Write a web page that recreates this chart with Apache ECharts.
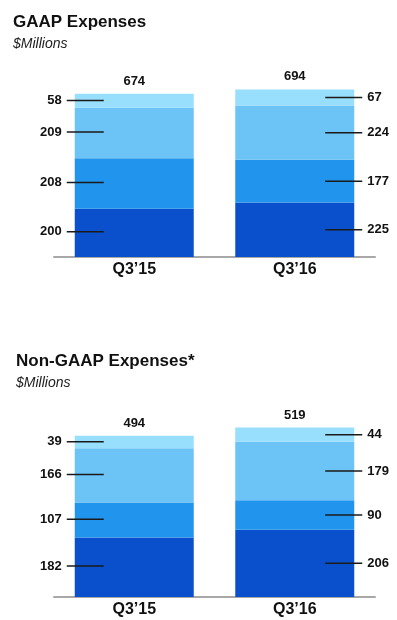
<!DOCTYPE html>
<html>
<head>
<meta charset="utf-8">
<script src="https://cdn.jsdelivr.net/npm/echarts@6/dist/echarts.min.js"></script>
<style>
    html, body { margin: 0; padding: 0; background: #fff; }
    #chart { width: 397px; height: 620px; }
</style>
</head>
<body>
<div id="chart"></div>
<script>
// categories and values, bottom segment first
const quarters = ['Q3\u201915', 'Q3\u201916'];
const segmentColors = ['#0a50cc', '#2195ee', '#6bc3f6', '#98defd'];

const gaapSegments = [
    [200, 225],
    [208, 177],
    [209, 224],
    [58, 67]
];
const gaapTotals = [674, 694];

const nonGaapSegments = [
    [182, 206],
    [107, 90],
    [166, 179],
    [39, 44]
];
const nonGaapTotals = [494, 519];

const FONT = '"Liberation Sans", Arial, Helvetica, sans-serif';

const rich = {
    v: { fontFamily: FONT, fontSize: 13, fontWeight: 'bold', color: '#111' },
    gap: { width: 5 },
    ln: { width: 37, height: 1.5, backgroundColor: '#1a1a1a' }
};

/**
 * leader-line label: left bar puts the number on the left, right bar on the right
 */
function segmentLabel(value, idx) {
    if (idx === 0) {
        return {
            show: true,
            position: [29, '48%'],
            align: 'right',
            verticalAlign: 'middle',
            formatter: '{v|' + value + '}{gap|}{ln|}',
            rich: rich
        };
    }
    return {
        show: true,
        position: [90, '50%'],
        align: 'left',
        verticalAlign: 'middle',
        formatter: '{ln|}{gap|}{v|' + value + '}',
        rich: rich
    };
}

function buildSeries(segments, totals, axisIndex, stack) {
    const series = segments.map((values, s) => ({
        type: 'bar',
        stack: stack,
        xAxisIndex: axisIndex,
        yAxisIndex: axisIndex,
        barWidth: 119,
        itemStyle: { color: segmentColors[s] },
        data: values.map((v, i) => ({ value: v, label: segmentLabel(v, i) }))
    }));
    // zero-height bar on top of the stack carries the total
    series.push({
        type: 'bar',
        stack: stack,
        xAxisIndex: axisIndex,
        yAxisIndex: axisIndex,
        barWidth: 119,
        itemStyle: { color: 'transparent' },
        label: {
            show: true,
            position: 'top',
            distance: 6,
            fontFamily: FONT,
            fontSize: 13,
            fontWeight: 'bold',
            color: '#111',
            formatter: (p) => String(totals[p.dataIndex])
        },
        data: totals.map(() => 0)
    });
    return series;
}

function xAxis(gridIndex) {
    return {
        type: 'category',
        gridIndex: gridIndex,
        data: quarters,
        axisLine: { lineStyle: { color: '#a8a8a8', width: 2 } },
        axisTick: { show: false },
        axisLabel: {
            margin: 5,
            fontFamily: FONT,
            fontSize: 16,
            fontWeight: 'bold',
            color: '#111'
        }
    };
}

function yAxis(gridIndex, max) {
    return {
        type: 'value',
        gridIndex: gridIndex,
        min: 0,
        max: max,
        show: false,
        splitLine: { show: false }
    };
}

const option = {
    animation: false,
    title: [
        {
            text: 'GAAP Expenses',
            subtext: '$Millions',
            left: 8,
            top: 9,
            itemGap: 6,
            textStyle: { fontFamily: FONT, fontSize: 17, fontWeight: 'bold', color: '#111' },
            subtextStyle: { fontFamily: FONT, fontSize: 14, fontStyle: 'italic', color: '#222' }
        },
        {
            text: 'Non-GAAP Expenses*',
            subtext: '$Millions',
            left: 11,
            top: 348,
            itemGap: 6,
            textStyle: { fontFamily: FONT, fontSize: 17, fontWeight: 'bold', color: '#111' },
            subtextStyle: { fontFamily: FONT, fontSize: 14, fontStyle: 'italic', color: '#222' }
        }
    ],
    grid: [
        { left: 54, right: 22, top: 63.5, bottom: 363 },
        { left: 54, right: 22, top: 401, bottom: 23 }
    ],
    xAxis: [xAxis(0), xAxis(1)],
    yAxis: [yAxis(0, 800), yAxis(1, 600)],
    series: buildSeries(gaapSegments, gaapTotals, 0, 'gaap')
        .concat(buildSeries(nonGaapSegments, nonGaapTotals, 1, 'nongaap'))
};

const chart = echarts.init(document.getElementById('chart'));
chart.setOption(option);
</script>
</body>
</html>
